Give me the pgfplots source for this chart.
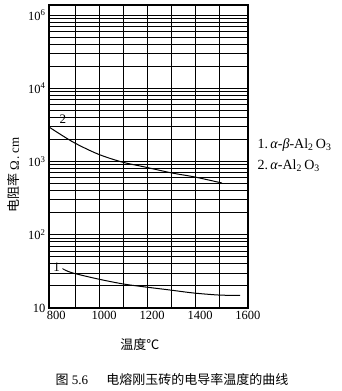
\documentclass[border=0pt]{standalone}
\usepackage{fontspec}
\setmainfont{Liberation Serif}
\newfontfamily\cjk{Noto Sans CJK SC}
\usepackage{pgfplots}
\pgfplotsset{compat=1.18}
\begin{document}
\begin{tikzpicture}[x=1pt,y=1pt]
\begin{axis}[
  at={(0,0)}, anchor=south west,
  scale only axis, width=199pt, height=303pt,
  xmin=770, xmax=1600,
  ymode=log, ymin=10, ymax=1.37e5,
  axis line style={line width=1.2pt},
  xtick={800,1000,1200,1400,1600},
  xticklabels={800,1000,1200,1400,1600},
  extra x ticks={880,980,1080,1180,1280,1380,1480},
  extra x tick labels={},
  extra x tick style={grid=major},
  ytick={10,100,1000,10000,100000},
  yticklabels={10,10\textsuperscript{2},10\textsuperscript{3},10\textsuperscript{4},10\textsuperscript{6}},
  minor ytick={20,30,40,50,60,70,80,90,200,300,400,500,600,700,800,900,2000,3000,4000,5000,6000,7000,8000,9000,20000,30000,40000,50000,60000,70000,80000,90000},
  ymajorgrids=true, yminorgrids=true,
  major grid style={black,line width=1pt},
  minor grid style={black,line width=1pt},
  major tick length=0pt, minor tick length=0pt,
  tick label style={font=\fontsize{12.5}{12.5}\selectfont},
  xtick pos=bottom, ytick pos=left,
  xlabel={{\cjk 温度℃}},
  xlabel style={at={(axis description cs:0.457,-0.122)}, anchor=center, font=\fontsize{13}{13}\selectfont},
  ylabel={{\cjk 电阻率}\,Ω\,.\,cm},
  ylabel style={at={(axis description cs:-0.176,0.439)}, anchor=center, rotate=0, font=\fontsize{13}{13}\selectfont},
  clip=false,
]
\addplot[black, line width=1pt, smooth] coordinates {
  (770,2960) (870,1845) (974,1265) (1074,985) (1170,841) (1283,697) (1379,614) (1492,508)
};
\addplot[black, line width=1pt, smooth] coordinates {
  (837,33) (870,30) (974,24.9) (1079,21.3) (1170,19.4) (1275,17.6) (1375,16.0) (1483,15.0) (1567,14.9)
};
\draw[black, line width=0.8pt] (axis cs:826,34.5) -- (axis cs:837,33);
\node[font=\fontsize{13}{13}\selectfont] at (axis cs:828,3800) {2};
\node[font=\fontsize{13}{13}\selectfont, anchor=east] at (axis cs:830,35.5) {1};
\end{axis}
\node[anchor=west, font=\fontsize{14}{14}\selectfont] at (205,163) {1.\,\textit{α}-\textit{β}-Al\textsubscript{2}\,O\textsubscript{3}};
\node[anchor=west, font=\fontsize{14}{14}\selectfont] at (205,142) {2.\,\textit{α}-Al\textsubscript{2}\,O\textsubscript{3}};
\node[font=\fontsize{13}{13}\selectfont] at (123,-72) {{\cjk 图} 5.6\hspace{1.4em}{\cjk 电熔刚玉砖的电导率温度的曲线}};
\pgfresetboundingbox
\useasboundingbox (-49,-83) rectangle (292,308);
\end{tikzpicture}
\end{document}
